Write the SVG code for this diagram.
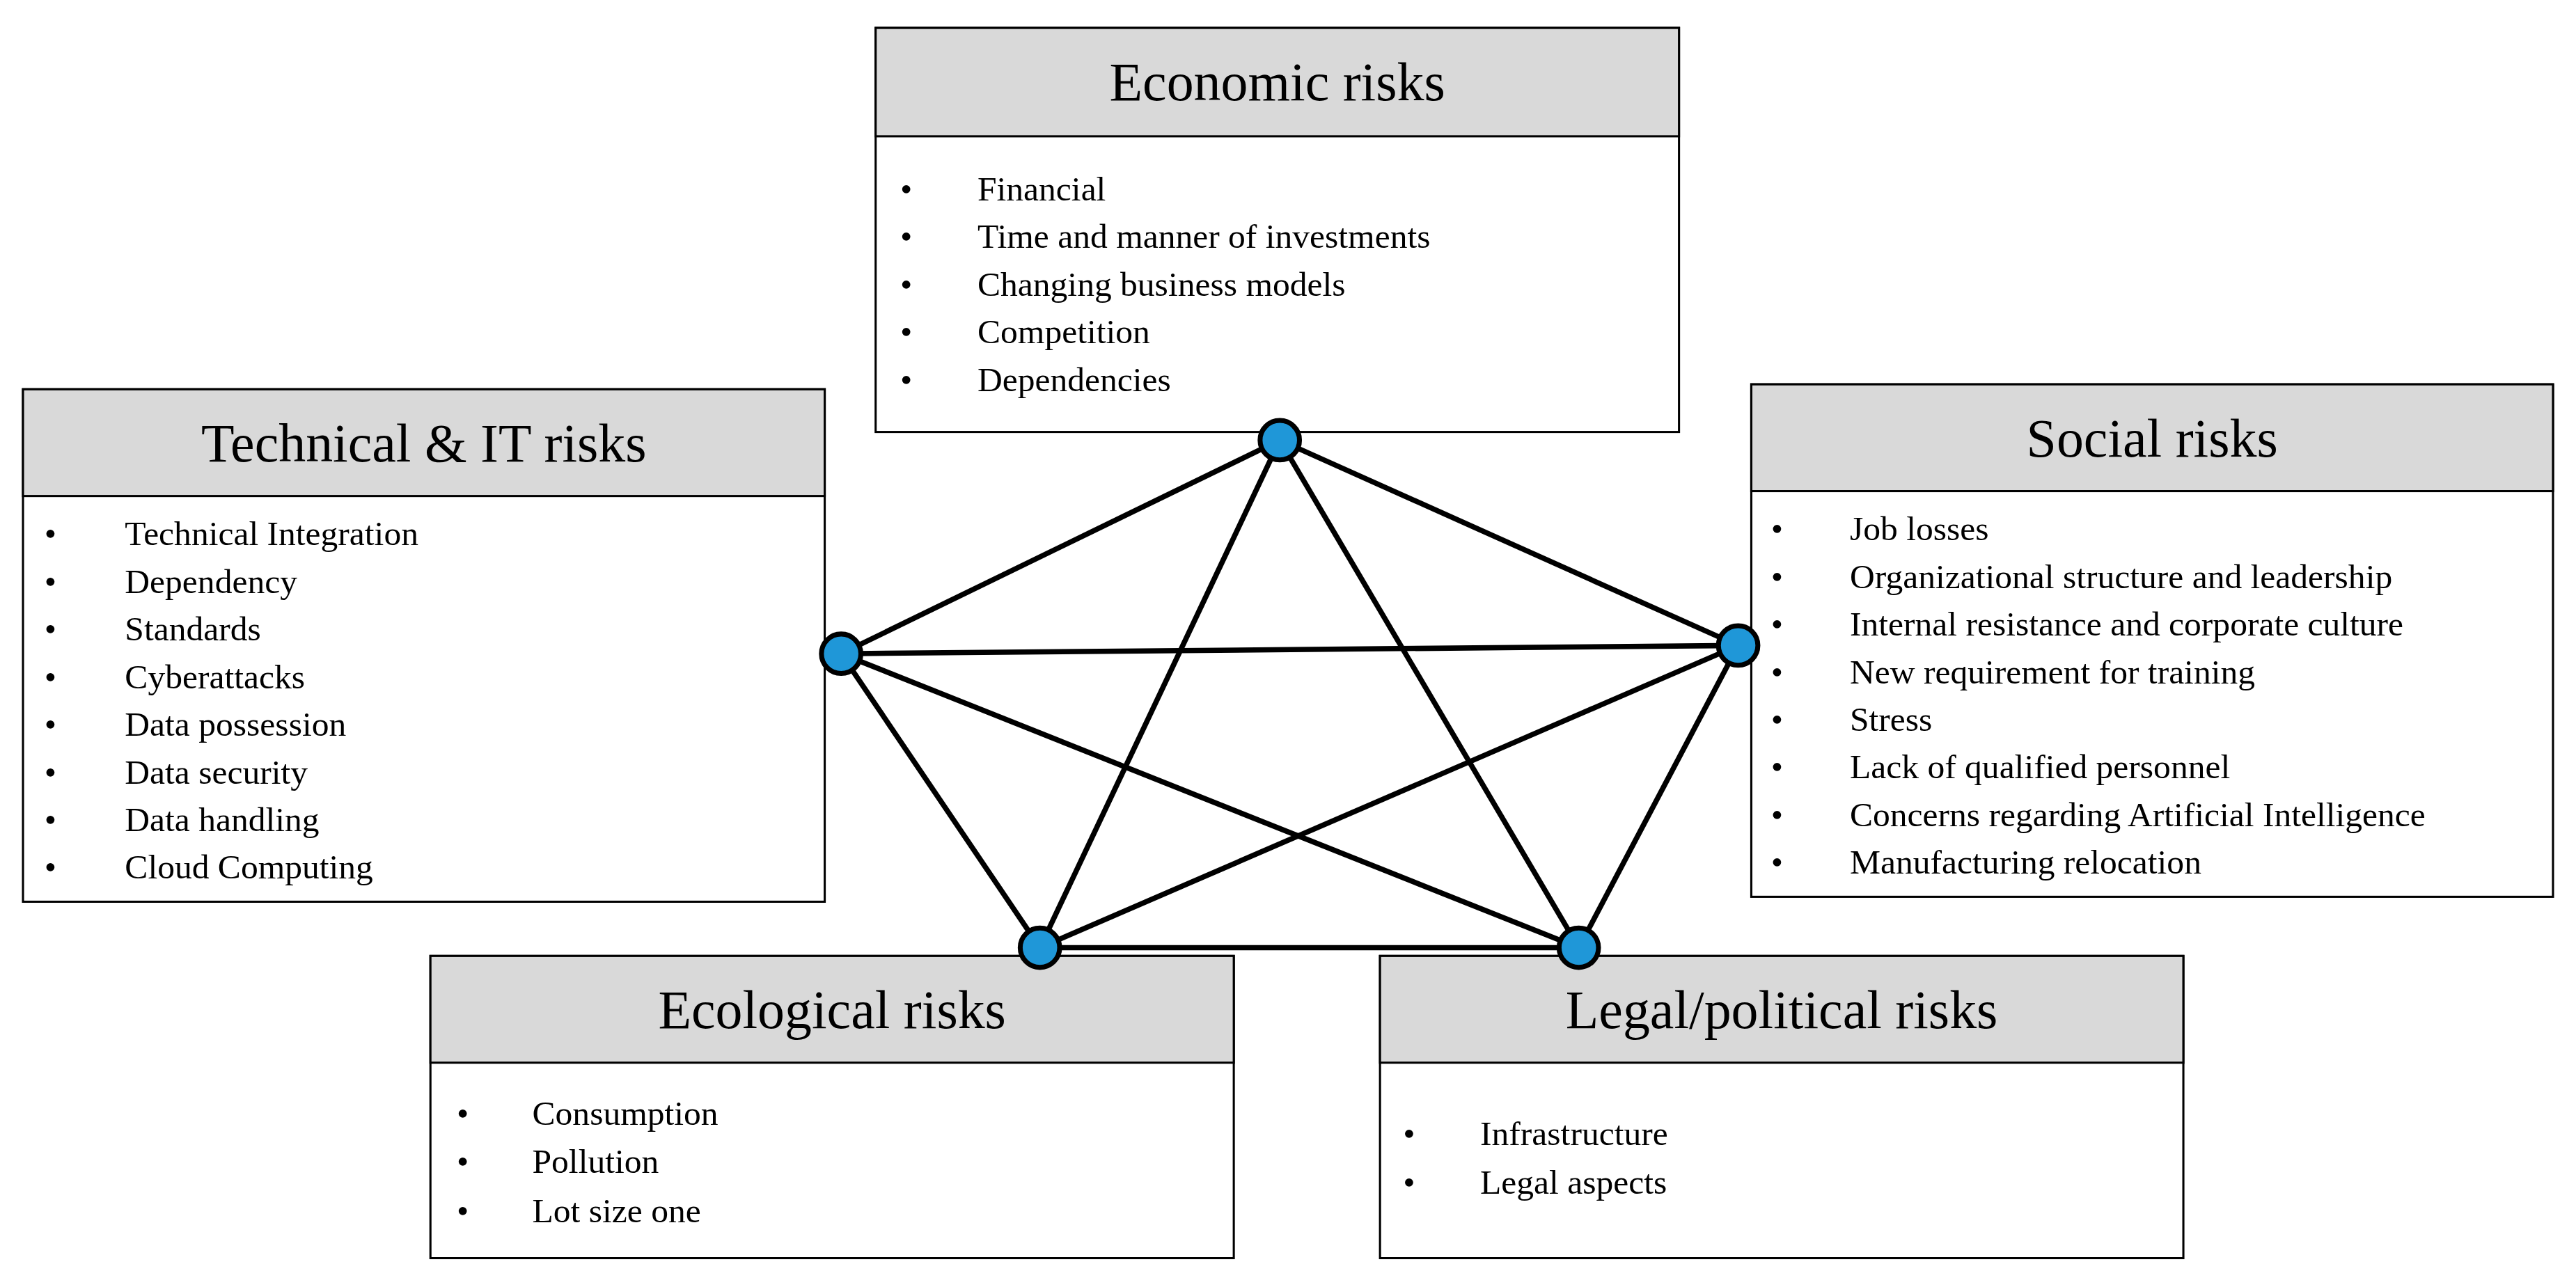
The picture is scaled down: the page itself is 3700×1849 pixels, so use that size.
<svg xmlns="http://www.w3.org/2000/svg" width="3700" height="1849" viewBox="0 0 3700 1849">
<style>
.hd{fill:#d9d9d9;stroke:#000;stroke-width:1.3}
.bd{fill:#fff;stroke:#000;stroke-width:1.3}
.t{font-family:"Liberation Serif",serif;font-size:33px;text-anchor:middle;fill:#000}
.i{font-family:"Liberation Serif",serif;font-size:21px;fill:#000}
.e{stroke:#000;stroke-width:3.2;fill:none}
.n{fill:#1f97d8;stroke:#000;stroke-width:3}
</style>
<rect width="3700" height="1849" fill="#fff"/>
<g transform="scale(2.3597)">
<g id="economic">
<rect class="bd" x="533" y="17" width="489" height="246"/>
<rect class="hd" x="533" y="17" width="489" height="66"/>
<text class="t" x="777.5" y="61">Economic risks</text>
<g class="i"><text x="548" y="122">•</text><text x="595" y="122">Financial</text>
<text x="548" y="151">•</text><text x="595" y="151">Time and manner of investments</text>
<text x="548" y="180">•</text><text x="595" y="180">Changing business models</text>
<text x="548" y="209">•</text><text x="595" y="209">Competition</text>
<text x="548" y="238">•</text><text x="595" y="238">Dependencies</text></g>
</g>
<g id="technical">
<rect class="bd" x="14" y="237" width="488" height="312"/>
<rect class="hd" x="14" y="237" width="488" height="65"/>
<text class="t" x="258" y="281">Technical &amp; IT risks</text>
<g class="i"><text x="27" y="332">•</text><text x="76" y="332">Technical Integration</text>
<text x="27" y="361">•</text><text x="76" y="361">Dependency</text>
<text x="27" y="390">•</text><text x="76" y="390">Standards</text>
<text x="27" y="419">•</text><text x="76" y="419">Cyberattacks</text>
<text x="27" y="448">•</text><text x="76" y="448">Data possession</text>
<text x="27" y="477">•</text><text x="76" y="477">Data security</text>
<text x="27" y="506">•</text><text x="76" y="506">Data handling</text>
<text x="27" y="535">•</text><text x="76" y="535">Cloud Computing</text></g>
</g>
<g id="social">
<rect class="bd" x="1066" y="234" width="488" height="312"/>
<rect class="hd" x="1066" y="234" width="488" height="65"/>
<text class="t" x="1310" y="278">Social risks</text>
<g class="i"><text x="1078" y="329">•</text><text x="1126" y="329">Job losses</text>
<text x="1078" y="358">•</text><text x="1126" y="358">Organizational structure and leadership</text>
<text x="1078" y="387">•</text><text x="1126" y="387">Internal resistance and corporate culture</text>
<text x="1078" y="416">•</text><text x="1126" y="416">New requirement for training</text>
<text x="1078" y="445">•</text><text x="1126" y="445">Stress</text>
<text x="1078" y="474">•</text><text x="1126" y="474">Lack of qualified personnel</text>
<text x="1078" y="503">•</text><text x="1126" y="503">Concerns regarding Artificial Intelligence</text>
<text x="1078" y="532">•</text><text x="1126" y="532">Manufacturing relocation</text></g>
</g>
<g id="ecological">
<rect class="bd" x="262" y="582" width="489" height="184"/>
<rect class="hd" x="262" y="582" width="489" height="65"/>
<text class="t" x="506.5" y="626">Ecological risks</text>
<g class="i"><text x="278" y="685">•</text><text x="324" y="685">Consumption</text>
<text x="278" y="714">•</text><text x="324" y="714">Pollution</text>
<text x="278" y="744">•</text><text x="324" y="744">Lot size one</text></g>
</g>
<g id="legal">
<rect class="bd" x="840" y="582" width="489" height="184"/>
<rect class="hd" x="840" y="582" width="489" height="65"/>
<text class="t" x="1084.5" y="626">Legal/political risks</text>
<g class="i"><text x="854" y="697">•</text><text x="901" y="697">Infrastructure</text>
<text x="854" y="727">•</text><text x="901" y="727">Legal aspects</text></g>
</g>
<g id="connectors">
<line class="e" x1="779" y1="268" x2="512" y2="398"/>
<line class="e" x1="779" y1="268" x2="1058" y2="393"/>
<line class="e" x1="512" y1="398" x2="1058" y2="393"/>
<line class="e" x1="512" y1="398" x2="633" y2="577"/>
<line class="e" x1="1058" y1="393" x2="961" y2="577"/>
<line class="e" x1="633" y1="577" x2="961" y2="577"/>
<line class="e" x1="779" y1="268" x2="633" y2="577"/>
<line class="e" x1="779" y1="268" x2="961" y2="577"/>
<line class="e" x1="512" y1="398" x2="961" y2="577"/>
<line class="e" x1="1058" y1="393" x2="633" y2="577"/>
</g>
<g id="nodes">
<circle class="n" cx="779" cy="268" r="12"/>
<circle class="n" cx="512" cy="398" r="12"/>
<circle class="n" cx="1058" cy="393" r="12"/>
<circle class="n" cx="633" cy="577" r="12"/>
<circle class="n" cx="961" cy="577" r="12"/>
</g>
</g>
</svg>
